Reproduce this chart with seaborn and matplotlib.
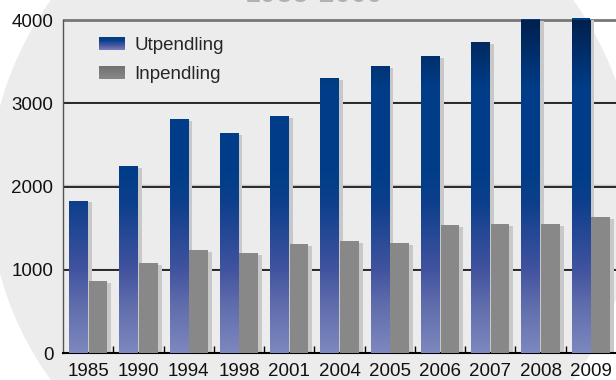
import numpy as np
import pandas as pd
import matplotlib
matplotlib.use("Agg")
import matplotlib.pyplot as plt
import seaborn as sns
from matplotlib.patches import Rectangle, Ellipse
from matplotlib.colors import LinearSegmentedColormap
from matplotlib.legend_handler import HandlerBase

# ---- data ----
years = ["1985", "1990", "1994", "1998", "2001", "2004", "2005", "2006", "2007", "2008", "2009"]
utpendling = [1830, 2245, 2810, 2645, 2850, 3305, 3445, 3570, 3735, 4010, 4025]
inpendling = [865, 1080, 1235, 1200, 1310, 1345, 1320, 1540, 1550, 1550, 1635]
series = ["Utpendling", "Inpendling"]
y_ticks = [0, 1000, 2000, 3000, 4000]
title = "1985-2009"

df = pd.DataFrame({
    "År": years * 2,
    "Antal": utpendling + inpendling,
    "Typ": [series[0]] * len(years) + [series[1]] * len(years),
})

sns.set_style("white")
plt.rcParams["font.family"] = ["Liberation Sans", "DejaVu Sans"]

W, H = 616, 380
fig = plt.figure(figsize=(W / 100, H / 100), dpi=100)
fig.patch.set_facecolor("white")
fig.add_artist(Ellipse((312 / W, 1 - 190 / H), 646 / W, 646 / H, transform=fig.transFigure,
                       facecolor="#ececec", edgecolor="none", zorder=-10))

ymax = 4040
ax_h = 333 * ymax / 4000
ax = fig.add_axes([63 / W, 27 / H, 553 / W, ax_h / H])
ax.set_facecolor("none")

blue_cmap = LinearSegmentedColormap.from_list(
    "blue", [(0.0, "#7d88bf"), (0.15, "#5e6bab"), (0.25, "#41539f"), (0.45, "#0d3f8c"),
             (0.55, "#003d88"), (0.8, "#003c87"), (1.0, "#00214f")])
gray_cmap = LinearSegmentedColormap.from_list("gray", ["#9a9a9a", "#5a5a5a"])

sns.barplot(data=df, x="År", y="Antal", hue="Typ", palette=["#003d88", "#888888"],
            width=0.78, gap=0.05, saturation=1, ax=ax, legend=False, zorder=3,
            errorbar=None)

n = len(years)
grad = np.linspace(0, 1, 400).reshape(-1, 1)
for i, p in enumerate(list(ax.patches)):
    x, w, h = p.get_x(), p.get_width(), p.get_height()
    ax.add_patch(Rectangle((x + 0.08, 0), w, max(h - 22, 0), facecolor="#c8c8c8",
                           edgecolor="none", zorder=2.5))
    p.set_edgecolor("none")
    if i < n:
        im = ax.imshow(grad, extent=[x, x + w, 0, 4000], origin="lower", aspect="auto",
                       cmap=blue_cmap, zorder=3.2, interpolation="bilinear")
        im.set_clip_path(p)

ax.set_xlim(-0.5, n - 0.5)
ax.set_ylim(0, ymax)

# grid lines
for v in y_ticks[1:-1]:
    ax.axhline(v + 14, color="#c4c4c4", lw=1, zorder=1.4)
    ax.axhline(v, color="#1a1a1a", lw=1.3, zorder=1.5)
ax.axhline(4000, color="#777777", lw=2, zorder=2)

for s in ["top", "right"]:
    ax.spines[s].set_visible(False)
ax.spines["left"].set_color("#555555")
ax.spines["left"].set_linewidth(1)
ax.spines["left"].set_bounds(0, 4000)
ax.spines["bottom"].set_color("black")
ax.spines["bottom"].set_linewidth(1.5)

ax.set_yticks(y_ticks)
ax.set_yticklabels([str(v) for v in y_ticks])
ax.set_xticks(range(n))
ax.set_xticklabels(years)
ax.set_xticks(np.arange(0.5, n - 0.5, 1), minor=True)
ax.tick_params(axis="y", length=0, pad=7, labelsize=13.5, colors="#111111")
ax.tick_params(axis="x", which="major", length=0, pad=7, labelsize=13.5, colors="#111111")
ax.tick_params(axis="x", which="minor", bottom=True, direction="in", length=5, width=1,
               color="black")
ax.set_xlabel("")
ax.set_ylabel("")


class GradHandler(HandlerBase):
    def __init__(self, cmap, lo, hi):
        super().__init__()
        self.cmap, self.lo, self.hi = cmap, lo, hi

    def create_artists(self, legend, orig_handle, xdescent, ydescent, width, height,
                       fontsize, trans):
        k = 14
        arts = []
        for j in range(k):
            t = self.lo + (self.hi - self.lo) * (j + 0.5) / k
            arts.append(Rectangle((-xdescent, -ydescent + height * j / k), width,
                                  height / k * 1.05, facecolor=self.cmap(t),
                                  edgecolor="none", transform=trans))
        return arts


h1 = Rectangle((0, 0), 1, 1, label=series[0])
h2 = Rectangle((0, 0), 1, 1, label=series[1])
ax.legend(handles=[h1, h2], loc="upper left", bbox_to_anchor=(0.066, 0.94),
          frameon=False, fontsize=13.5, handlelength=1.35, handleheight=0.7,
          handletextpad=0.5, labelspacing=0.66, borderpad=0, borderaxespad=0,
          handler_map={h1: GradHandler(blue_cmap, 0.05, 0.6),
                       h2: GradHandler(gray_cmap, 0.25, 0.65)})

fig.text(314 / W, 1 - 2 / H, title, ha="center", va="baseline", fontsize=21,
         color="#b0b0b0")

fig.savefig("out.png", dpi=100)
